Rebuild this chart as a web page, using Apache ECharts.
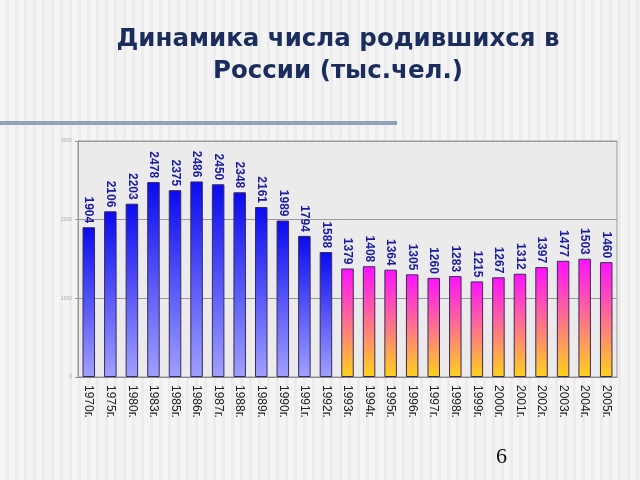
<!DOCTYPE html>
<html><head><meta charset="utf-8">
<script src="https://cdn.jsdelivr.net/npm/echarts@6/dist/echarts.min.js"></script>
<style>
html,body{margin:0;padding:0;}
body{width:640px;height:480px;background:repeating-linear-gradient(90deg,#f4f4f4 0px,#f4f4f4 6px,#ececec 6px,#ececec 9px);}
#c{width:640px;height:480px;}
</style></head><body>
<div id="c"></div>
<script>
var categories = ['1970г.','1975г.','1980г.','1983г.','1985г.','1986г.','1987г.','1988г.','1989г.','1990г.','1991г.','1992г.','1993г.','1994г.','1995г.','1996г.','1997г.','1998г.','1999г.','2000г.','2001г.','2002г.','2003г.','2004г.','2005г.'];
var births = [1904,2106,2203,2478,2375,2486,2450,2348,2161,1989,1794,1588,1379,1408,1364,1305,1260,1283,1215,1267,1312,1397,1477,1503,1460];
var yTicks = [0,1000,2000,3000];
var splitIndex = 12; // first index of the pink/yellow group

var blueGrad = new echarts.graphic.LinearGradient(0,0,0,1,[{offset:0,color:'#0a0af0'},{offset:1,color:'#a0a0ff'}]);
var pinkGrad = new echarts.graphic.LinearGradient(0,0,0,1,[{offset:0,color:'#ff10ff'},{offset:1,color:'#ffd21a'}]);

var data = births.map(function(v,i){
  return {value:v,itemStyle:{color:i<splitIndex?blueGrad:pinkGrad}};
});

var chart = echarts.init(document.getElementById('c'),null,{renderer:'canvas'});
chart.setOption({
  animation:false,
  title:{
    text:'Динамика числа родившихся в\nРоссии (тыс.чел.)',
    left:333, top:19, textAlign:'center',
    textStyle:{fontFamily:'DejaVu Sans',fontWeight:'bold',fontSize:24.5,color:'#1b2d5c',lineHeight:32}
  },
  graphic:[
    {type:'rect',shape:{x:0,y:121,width:397,height:4},style:{fill:'#8ea2bc'}},
    {type:'text',left:496,top:446,style:{text:'6',font:'22px "Liberation Serif"',fill:'#111'}}
  ],
  grid:{left:78,right:23,top:141,bottom:103,show:true,backgroundColor:'#ebebeb',borderColor:'#9a9a9a',borderWidth:1},
  xAxis:{
    type:'category',data:categories,
    axisLine:{lineStyle:{color:'#888'}},
    axisTick:{show:false},
    axisLabel:{rotate:-90,interval:0,fontFamily:'Liberation Sans',fontSize:12,color:'#222',margin:8}
  },
  yAxis:{
    type:'value',min:0,max:3000,interval:1000,
    axisLine:{show:true,lineStyle:{color:'#999'}},
    axisTick:{show:true,length:3,lineStyle:{color:'#999'}},
    axisLabel:{fontSize:5,color:'#aaa',margin:6,formatter:function(v){return yTicks.indexOf(v)>=0?String(v):'';}},
    splitLine:{show:true,lineStyle:{color:'#999',width:1}}
  },
  series:[{
    type:'bar',data:data,barCategoryGap:'42%',
    itemStyle:{borderColor:'#3a2a5a',borderWidth:1},
    label:{show:true,position:'top',rotate:-90,align:'right',verticalAlign:'middle',distance:4,
      fontFamily:'Liberation Sans',fontWeight:'bold',fontSize:12,color:'#1a1aa0'}
  }]
});
</script>
</body></html>
